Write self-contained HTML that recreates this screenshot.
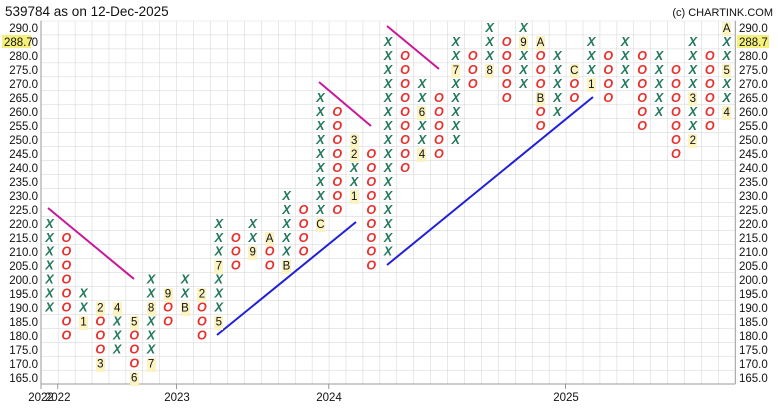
<!DOCTYPE html>
<html><head><meta charset="utf-8"><style>
body{margin:0;background:#fff}
svg{display:block;font-family:"Liberation Sans",sans-serif}
.x{fill:#22785a;font-style:italic;font-size:12.5px;text-anchor:middle;font-weight:600}
.o{fill:#e8302c;font-style:italic;font-size:12.5px;text-anchor:middle;font-weight:600}
.n{fill:#111;font-size:11.5px;text-anchor:middle}
.yl{font-size:11.5px;fill:#111}
.hl rect{width:9px}
</style></head><body>
<svg width="778" height="414" viewBox="0 0 778 414" xmlns="http://www.w3.org/2000/svg">
<defs><pattern id="g" x="41" y="20.7" width="16.93" height="13.97" patternUnits="userSpaceOnUse">
<path d="M0 0V13.97M0 0H16.93" stroke="#d2d2d2" stroke-width="1" fill="none"/></pattern></defs>
<rect x="41" y="20.7" width="694.3" height="363.3" fill="url(#g)"/>
<line x1="41" y1="20.7" x2="41" y2="384" stroke="#999"/>
<line x1="735.3" y1="20.7" x2="735.3" y2="384" stroke="#999"/>
<line x1="41" y1="384" x2="735.3" y2="384" stroke="#999"/>
<text x="5" y="16" font-size="13.5" fill="#111">539784 as on 12-Dec-2025</text>
<text x="773" y="16" font-size="11" fill="#111" text-anchor="end">(c) CHARTINK.COM</text>
<g class="yl" text-anchor="end">
<text x="38" y="32">290.0</text><text x="38" y="46">285.0</text><text x="38" y="60">280.0</text><text x="38" y="74">275.0</text><text x="38" y="88">270.0</text><text x="38" y="102">265.0</text><text x="38" y="116">260.0</text><text x="38" y="130">255.0</text><text x="38" y="144">250.0</text><text x="38" y="158">245.0</text><text x="38" y="172">240.0</text><text x="38" y="186">235.0</text><text x="38" y="200">230.0</text><text x="38" y="214">225.0</text><text x="38" y="228">220.0</text><text x="38" y="242">215.0</text><text x="38" y="256">210.0</text><text x="38" y="270">205.0</text><text x="38" y="284">200.0</text><text x="38" y="298">195.0</text><text x="38" y="312">190.0</text><text x="38" y="326">185.0</text><text x="38" y="340">180.0</text><text x="38" y="354">175.0</text><text x="38" y="368">170.0</text><text x="38" y="382">165.0</text>
</g>
<g class="yl">
<text x="739" y="32">290.0</text><text x="739" y="46">285.0</text><text x="739" y="60">280.0</text><text x="739" y="74">275.0</text><text x="739" y="88">270.0</text><text x="739" y="102">265.0</text><text x="739" y="116">260.0</text><text x="739" y="130">255.0</text><text x="739" y="144">250.0</text><text x="739" y="158">245.0</text><text x="739" y="172">240.0</text><text x="739" y="186">235.0</text><text x="739" y="200">230.0</text><text x="739" y="214">225.0</text><text x="739" y="228">220.0</text><text x="739" y="242">215.0</text><text x="739" y="256">210.0</text><text x="739" y="270">205.0</text><text x="739" y="284">200.0</text><text x="739" y="298">195.0</text><text x="739" y="312">190.0</text><text x="739" y="326">185.0</text><text x="739" y="340">180.0</text><text x="739" y="354">175.0</text><text x="739" y="368">170.0</text><text x="739" y="382">165.0</text>
</g>
<rect x="2" y="35" width="29" height="13" fill="#f5f07a"/><text x="4" y="46" class="yl">288.7</text>
<rect x="737" y="35" width="32" height="13" fill="#f5f07a"/><text x="739" y="46" class="yl">288.7</text>
<g stroke="#999"><line x1="41" y1="384" x2="41" y2="389"/><line x1="57.7" y1="384" x2="57.7" y2="389"/><line x1="176.5" y1="384" x2="176.5" y2="389"/><line x1="328.7" y1="384" x2="328.7" y2="389"/><line x1="565.5" y1="384" x2="565.5" y2="389"/></g>
<g class="yl" text-anchor="middle"><text x="41" y="401">2022</text><text x="57.7" y="401">2022</text><text x="177" y="401">2023</text><text x="329" y="401">2024</text><text x="566" y="401">2025</text></g>
<g stroke-width="2">
<line x1="48" y1="208" x2="134" y2="279" stroke="#c8189a"/>
<line x1="319" y1="82" x2="371" y2="126" stroke="#c8189a"/>
<line x1="387" y1="26" x2="439" y2="69" stroke="#c8189a"/>
<line x1="217" y1="335" x2="356" y2="222" stroke="#2020d8"/>
<line x1="387" y1="265" x2="593" y2="97" stroke="#2020d8"/>
</g>
<g fill="#fcf3c2" class="hl" transform="translate(1,0)">
<rect x="78" y="316" width="9" height="14"/><rect x="95" y="302" width="9" height="14"/><rect x="95" y="358" width="9" height="14"/><rect x="112" y="302" width="9" height="14"/><rect x="129" y="316" width="9" height="14"/><rect x="129" y="372" width="9" height="14"/><rect x="146" y="302" width="9" height="14"/><rect x="146" y="358" width="9" height="14"/><rect x="163" y="288" width="9" height="14"/><rect x="180" y="302" width="9" height="14"/><rect x="196" y="288" width="9" height="14"/><rect x="213" y="260" width="9" height="14"/><rect x="213" y="316" width="9" height="14"/><rect x="247" y="246" width="9" height="14"/><rect x="264" y="232" width="9" height="14"/><rect x="281" y="260" width="9" height="14"/><rect x="315" y="218" width="9" height="14"/><rect x="349" y="134" width="9" height="14"/><rect x="349" y="148" width="9" height="14"/><rect x="349" y="190" width="9" height="14"/><rect x="416" y="106" width="9" height="14"/><rect x="416" y="148" width="9" height="14"/><rect x="450" y="64" width="9" height="14"/><rect x="484" y="64" width="9" height="14"/><rect x="518" y="36" width="9" height="14"/><rect x="535" y="36" width="9" height="14"/><rect x="535" y="92" width="9" height="14"/><rect x="569" y="64" width="9" height="14"/><rect x="586" y="78" width="9" height="14"/><rect x="687" y="92" width="9" height="14"/><rect x="687" y="134" width="9" height="14"/><rect x="721" y="22" width="9" height="14"/><rect x="721" y="64" width="9" height="14"/><rect x="721" y="106" width="9" height="14"/>
</g>
<g class="n">
<text x="83.4" y="325.6">1</text><text x="100.3" y="311.6">2</text><text x="100.3" y="367.5">3</text><text x="117.2" y="311.6">4</text><text x="134.2" y="325.6">5</text><text x="134.2" y="381.5">6</text><text x="151.1" y="311.6">8</text><text x="151.1" y="367.5">7</text><text x="168" y="297.6">9</text><text x="185" y="311.6">B</text><text x="201.9" y="297.6">2</text><text x="218.8" y="269.7">7</text><text x="218.8" y="325.6">5</text><text x="252.7" y="255.7">9</text><text x="269.6" y="241.8">A</text><text x="286.5" y="269.7">B</text><text x="320.4" y="227.8">C</text><text x="354.2" y="144">3</text><text x="354.2" y="157.9">2</text><text x="354.2" y="199.8">1</text><text x="422" y="116">6</text><text x="422" y="157.9">4</text><text x="455.8" y="74.1">7</text><text x="489.7" y="74.1">8</text><text x="523.5" y="46.2">9</text><text x="540.5" y="46.2">A</text><text x="540.5" y="102">B</text><text x="574.3" y="74.1">C</text><text x="591.3" y="88.1">1</text><text x="692.8" y="102">3</text><text x="692.8" y="144">2</text><text x="726.7" y="32.2">A</text><text x="726.7" y="74.1">5</text><text x="726.7" y="116">4</text>
</g>
<g class="x">
<text x="49.5" y="227.8">X</text><text x="49.5" y="241.8">X</text><text x="49.5" y="255.7">X</text><text x="49.5" y="269.7">X</text><text x="49.5" y="283.7">X</text><text x="49.5" y="297.6">X</text><text x="49.5" y="311.6">X</text>
<text x="83.4" y="297.6">X</text><text x="83.4" y="311.6">X</text>
<text x="117.2" y="325.6">X</text><text x="117.2" y="339.5">X</text><text x="117.2" y="353.5">X</text>
<text x="151.1" y="283.7">X</text><text x="151.1" y="297.6">X</text><text x="151.1" y="325.6">X</text><text x="151.1" y="339.5">X</text><text x="151.1" y="353.5">X</text>
<text x="185" y="283.7">X</text><text x="185" y="297.6">X</text>
<text x="218.8" y="227.8">X</text><text x="218.8" y="241.8">X</text><text x="218.8" y="255.7">X</text><text x="218.8" y="283.7">X</text><text x="218.8" y="297.6">X</text><text x="218.8" y="311.6">X</text>
<text x="252.7" y="227.8">X</text><text x="252.7" y="241.8">X</text>
<text x="286.5" y="199.8">X</text><text x="286.5" y="213.8">X</text><text x="286.5" y="227.8">X</text><text x="286.5" y="241.8">X</text><text x="286.5" y="255.7">X</text>
<text x="320.4" y="102">X</text><text x="320.4" y="116">X</text><text x="320.4" y="130">X</text><text x="320.4" y="144">X</text><text x="320.4" y="157.9">X</text><text x="320.4" y="171.9">X</text><text x="320.4" y="185.9">X</text><text x="320.4" y="199.8">X</text><text x="320.4" y="213.8">X</text>
<text x="354.2" y="171.9">X</text><text x="354.2" y="185.9">X</text>
<text x="388.1" y="46.2">X</text><text x="388.1" y="60.1">X</text><text x="388.1" y="74.1">X</text><text x="388.1" y="88.1">X</text><text x="388.1" y="102">X</text><text x="388.1" y="116">X</text><text x="388.1" y="130">X</text><text x="388.1" y="144">X</text><text x="388.1" y="157.9">X</text><text x="388.1" y="171.9">X</text><text x="388.1" y="185.9">X</text><text x="388.1" y="199.8">X</text><text x="388.1" y="213.8">X</text><text x="388.1" y="227.8">X</text><text x="388.1" y="241.8">X</text><text x="388.1" y="255.7">X</text>
<text x="422" y="88.1">X</text><text x="422" y="102">X</text><text x="422" y="130">X</text><text x="422" y="144">X</text>
<text x="455.8" y="46.2">X</text><text x="455.8" y="60.1">X</text><text x="455.8" y="88.1">X</text><text x="455.8" y="102">X</text><text x="455.8" y="116">X</text><text x="455.8" y="130">X</text><text x="455.8" y="144">X</text>
<text x="489.7" y="32.2">X</text><text x="489.7" y="46.2">X</text><text x="489.7" y="60.1">X</text>
<text x="523.5" y="32.2">X</text><text x="523.5" y="60.1">X</text><text x="523.5" y="74.1">X</text><text x="523.5" y="88.1">X</text>
<text x="557.4" y="60.1">X</text><text x="557.4" y="74.1">X</text><text x="557.4" y="88.1">X</text><text x="557.4" y="102">X</text><text x="557.4" y="116">X</text>
<text x="591.3" y="46.2">X</text><text x="591.3" y="60.1">X</text><text x="591.3" y="74.1">X</text>
<text x="625.1" y="46.2">X</text><text x="625.1" y="60.1">X</text><text x="625.1" y="74.1">X</text><text x="625.1" y="88.1">X</text>
<text x="659" y="60.1">X</text><text x="659" y="74.1">X</text><text x="659" y="88.1">X</text><text x="659" y="102">X</text><text x="659" y="116">X</text>
<text x="692.8" y="46.2">X</text><text x="692.8" y="60.1">X</text><text x="692.8" y="74.1">X</text><text x="692.8" y="88.1">X</text><text x="692.8" y="116">X</text><text x="692.8" y="130">X</text>
<text x="726.7" y="46.2">X</text><text x="726.7" y="60.1">X</text><text x="726.7" y="88.1">X</text><text x="726.7" y="102">X</text>
</g>
<g class="o">
<text x="66.4" y="241.8">O</text><text x="66.4" y="255.7">O</text><text x="66.4" y="269.7">O</text><text x="66.4" y="283.7">O</text><text x="66.4" y="297.6">O</text><text x="66.4" y="311.6">O</text><text x="66.4" y="325.6">O</text><text x="66.4" y="339.5">O</text>
<text x="100.3" y="325.6">O</text><text x="100.3" y="339.5">O</text><text x="100.3" y="353.5">O</text>
<text x="134.2" y="339.5">O</text><text x="134.2" y="353.5">O</text><text x="134.2" y="367.5">O</text>
<text x="168" y="311.6">O</text><text x="168" y="325.6">O</text>
<text x="201.9" y="311.6">O</text><text x="201.9" y="325.6">O</text><text x="201.9" y="339.5">O</text>
<text x="235.7" y="241.8">O</text><text x="235.7" y="255.7">O</text><text x="235.7" y="269.7">O</text>
<text x="269.6" y="255.7">O</text><text x="269.6" y="269.7">O</text>
<text x="303.5" y="213.8">O</text><text x="303.5" y="227.8">O</text><text x="303.5" y="241.8">O</text><text x="303.5" y="255.7">O</text>
<text x="337.3" y="116">O</text><text x="337.3" y="130">O</text><text x="337.3" y="144">O</text><text x="337.3" y="157.9">O</text><text x="337.3" y="171.9">O</text><text x="337.3" y="185.9">O</text><text x="337.3" y="199.8">O</text><text x="337.3" y="213.8">O</text>
<text x="371.2" y="157.9">O</text><text x="371.2" y="171.9">O</text><text x="371.2" y="185.9">O</text><text x="371.2" y="199.8">O</text><text x="371.2" y="213.8">O</text><text x="371.2" y="227.8">O</text><text x="371.2" y="241.8">O</text><text x="371.2" y="255.7">O</text><text x="371.2" y="269.7">O</text>
<text x="405" y="60.1">O</text><text x="405" y="74.1">O</text><text x="405" y="88.1">O</text><text x="405" y="102">O</text><text x="405" y="116">O</text><text x="405" y="130">O</text><text x="405" y="144">O</text><text x="405" y="157.9">O</text><text x="405" y="171.9">O</text>
<text x="438.9" y="102">O</text><text x="438.9" y="116">O</text><text x="438.9" y="130">O</text><text x="438.9" y="144">O</text><text x="438.9" y="157.9">O</text>
<text x="472.8" y="60.1">O</text><text x="472.8" y="74.1">O</text><text x="472.8" y="88.1">O</text>
<text x="506.6" y="46.2">O</text><text x="506.6" y="60.1">O</text><text x="506.6" y="74.1">O</text><text x="506.6" y="88.1">O</text><text x="506.6" y="102">O</text>
<text x="540.5" y="60.1">O</text><text x="540.5" y="74.1">O</text><text x="540.5" y="88.1">O</text><text x="540.5" y="116">O</text><text x="540.5" y="130">O</text>
<text x="574.3" y="88.1">O</text><text x="574.3" y="102">O</text>
<text x="608.2" y="60.1">O</text><text x="608.2" y="74.1">O</text><text x="608.2" y="88.1">O</text><text x="608.2" y="102">O</text>
<text x="642.1" y="60.1">O</text><text x="642.1" y="74.1">O</text><text x="642.1" y="88.1">O</text><text x="642.1" y="102">O</text><text x="642.1" y="116">O</text><text x="642.1" y="130">O</text>
<text x="675.9" y="74.1">O</text><text x="675.9" y="88.1">O</text><text x="675.9" y="102">O</text><text x="675.9" y="116">O</text><text x="675.9" y="130">O</text><text x="675.9" y="144">O</text><text x="675.9" y="157.9">O</text>
<text x="709.8" y="60.1">O</text><text x="709.8" y="74.1">O</text><text x="709.8" y="88.1">O</text><text x="709.8" y="102">O</text><text x="709.8" y="116">O</text><text x="709.8" y="130">O</text>
</g>
</svg>
</body></html>
